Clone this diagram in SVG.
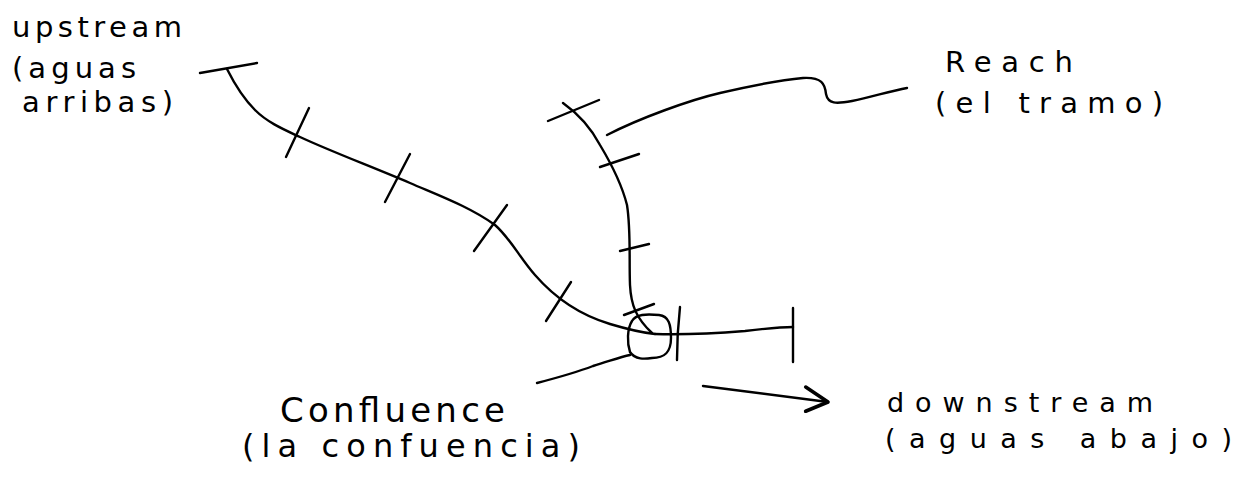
<svg xmlns="http://www.w3.org/2000/svg" width="1246" height="486" viewBox="0 0 1246 486">
<style>
.ln{fill:none;stroke:#000;stroke-width:2.4;stroke-linecap:round;stroke-linejoin:round}
.t{font-family:"DejaVu Sans","Liberation Sans",sans-serif;fill:#000}
</style>
<defs>
<marker id="ah" viewBox="0 0 20 20" refX="18" refY="10" markerWidth="30" markerHeight="30" markerUnits="userSpaceOnUse" orient="auto">
<path d="M2,2 L18,10 L4,18" fill="none" stroke="#000" stroke-width="2.4" stroke-linecap="round" stroke-linejoin="round"/>
</marker>
</defs>
<rect width="1246" height="486" fill="#fff"/>
<g id="connectors">
<!-- upstream river -->
<path class="ln" d="M200,73 L257,63"/>
<path class="ln" d="M227,69 C235,85 245,100 255,110 C268,123 285,130 300,137 C330,151 370,166 410,183 C440,196 470,207 495,225 C510,238 520,258 535,275 C555,298 580,315 610,324 C630,330 645,333 655,334"/>
<path class="ln" d="M309,108 L286,157"/>
<path class="ln" d="M410,154 L385,202"/>
<path class="ln" d="M507,205 L474,251"/>
<path class="ln" d="M571,282 L546,321"/>
<!-- reach river -->
<path class="ln" d="M548,121 L599,100"/>
<path class="ln" d="M563,103 C580,115 592,130 600,145 C612,165 622,185 627,205 C631,230 629,260 630,285 C631,305 636,318 652,333"/>
<path class="ln" d="M600,167 L639,154"/>
<path class="ln" d="M620,251 L649,244"/>
<path class="ln" d="M624,315 L654,304"/>
<!-- downstream -->
<path class="ln" d="M655,334 C690,335 720,333 745,331 C770,328 780,327 793,327"/>
<path class="ln" d="M680,307 C678,325 677,345 677,360"/>
<path class="ln" d="M793,308 L793,362"/>
<!-- confluence circle -->
<path class="ln" d="M632,321 C636,314 646,314 659,315 C669,316 671,325 671,338 C671,352 665,358 652,358 C645,359 635,360 630,352 C627,343 627,329 632,321 Z"/>
<!-- leaders -->
<path class="ln" d="M607,135 C640,118 690,100 720,93 C750,86 780,80 803,78 C822,77 825,84 826,94 C828,104 836,104 852,101 C872,97 890,91 907,88"/>
<path class="ln" d="M537,383 C560,377 580,371 593,366 C610,361 620,357 630,355"/>
<path class="ln" d="M703,386 L828,402" marker-end="url(#ah)"/>
</g>
<g id="node-upstream">
<text class="t" x="12" y="37" font-size="29" textLength="170" lengthAdjust="spacing">upstream</text>
<text class="t" x="12" y="78" font-size="29" textLength="124" lengthAdjust="spacing">(aguas</text>
<text class="t" x="22" y="112" font-size="29" textLength="151" lengthAdjust="spacing">arribas)</text>
</g>
<g id="node-reach">
<text class="t" x="945" y="72" font-size="29" textLength="128" lengthAdjust="spacing">Reach</text>
<text class="t" x="935" y="113" font-size="29" textLength="228" lengthAdjust="spacing">(el tramo)</text>
</g>
<g id="node-confluence">
<text class="t" x="280" y="422" font-size="34" textLength="225" lengthAdjust="spacing">Confluence</text>
<text class="t" x="242" y="457" font-size="32" textLength="338" lengthAdjust="spacing">(la confuencia)</text>
</g>
<g id="node-downstream">
<text class="t" x="887" y="412" font-size="27" textLength="266" lengthAdjust="spacing">downstream</text>
<text class="t" x="885" y="448" font-size="27" textLength="347" lengthAdjust="spacing">(aguas abajo)</text>
</g>
</svg>
